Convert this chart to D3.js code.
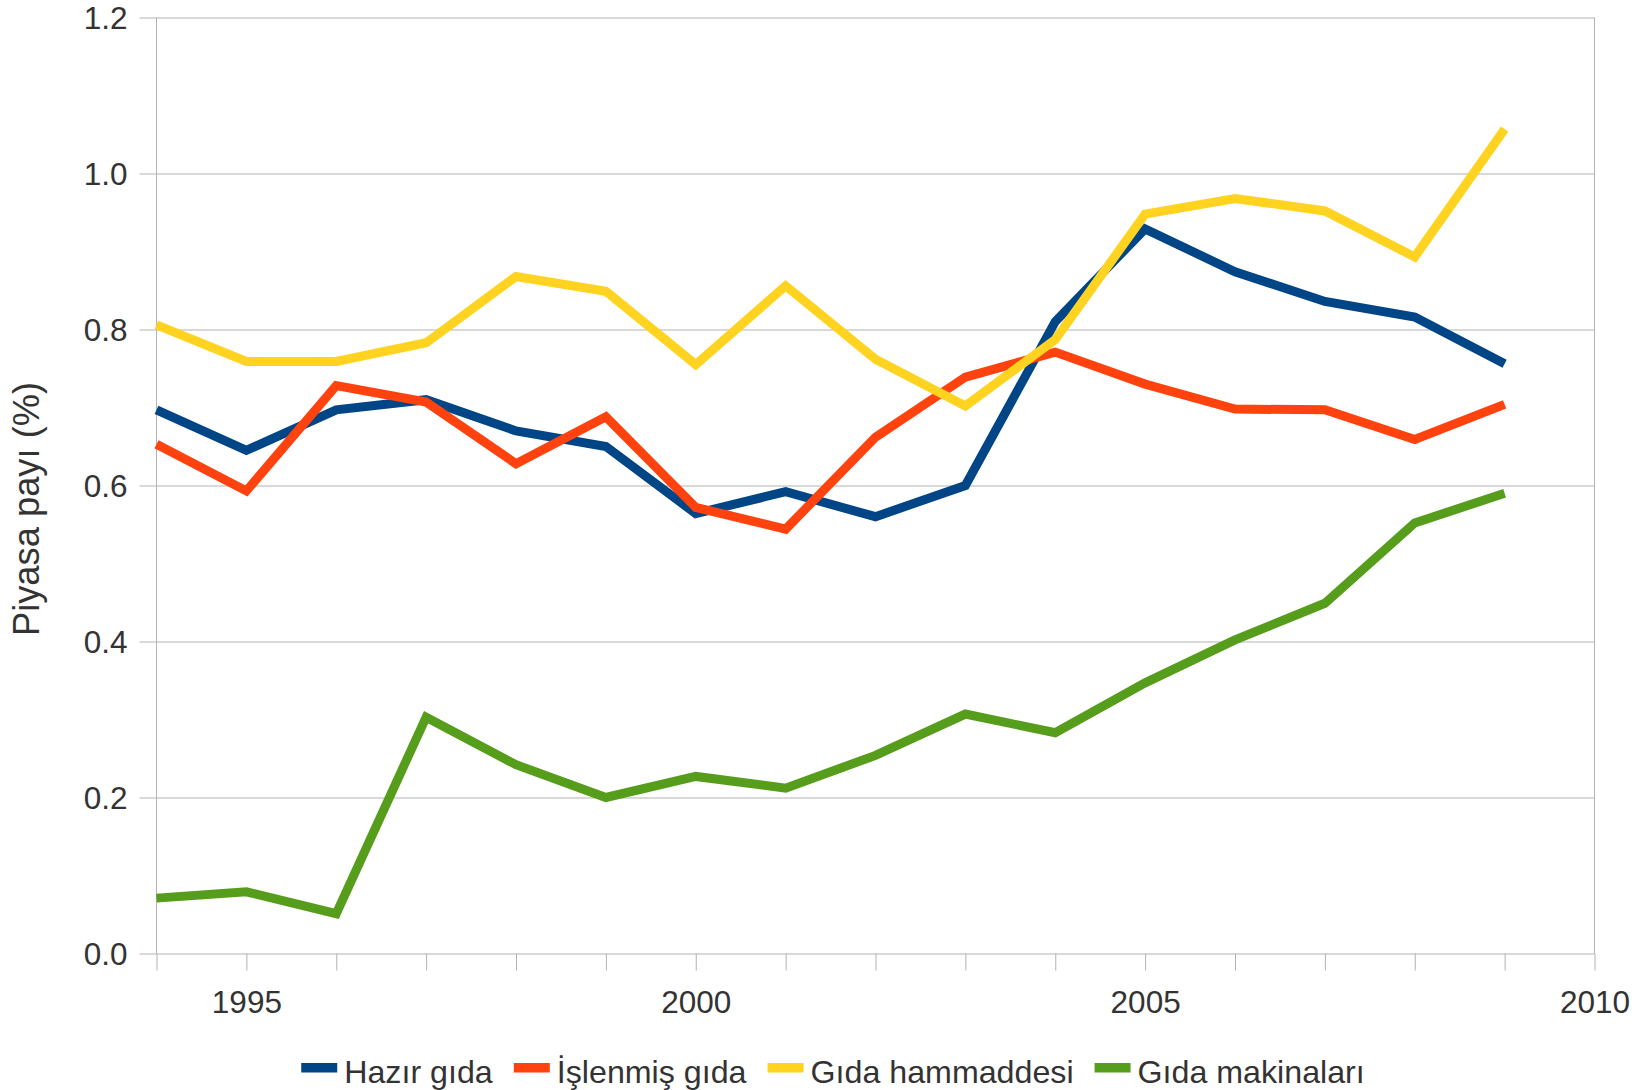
<!DOCTYPE html>
<html>
<head>
<meta charset="utf-8">
<script src="https://cdn.jsdelivr.net/npm/d3@7"></script>
<style>
  body { margin: 0; background: #fff; }
  text { font-family: "Liberation Sans", Arial, sans-serif; fill: #333; }
</style>
</head>
<body>
<div id="chart"></div>
<script>
// ===== data =====
var years = [1994, 1995, 1996, 1997, 1998, 1999, 2000, 2001, 2002, 2003, 2004, 2005, 2006, 2007, 2008, 2009];
var hazirGida = [0.697, 0.645, 0.697, 0.710, 0.670, 0.650, 0.564, 0.592, 0.560, 0.600, 0.810, 0.929, 0.874, 0.836, 0.816, 0.756];
var islenmisGida = [0.653, 0.593, 0.728, 0.707, 0.628, 0.688, 0.572, 0.544, 0.662, 0.739, 0.771, 0.730, 0.698, 0.697, 0.659, 0.704];
var gidaHammaddesi = [0.806, 0.759, 0.759, 0.783, 0.868, 0.849, 0.755, 0.856, 0.762, 0.702, 0.787, 0.948, 0.968, 0.952, 0.893, 1.057];
var gidaMakinalari = [0.071, 0.079, 0.051, 0.303, 0.242, 0.200, 0.227, 0.212, 0.254, 0.307, 0.283, 0.347, 0.402, 0.449, 0.552, 0.590];
var seriesNames = ["Hazır gıda", "İşlenmiş gıda", "Gıda hammaddesi", "Gıda makinaları"];
var seriesColors = ["#004586", "#ff420e", "#ffd320", "#579d1c"];
var yTicks = [0, 0.2, 0.4, 0.6, 0.8, 1.0, 1.2];
var xLabelYears = [1995, 2000, 2005, 2010];
var yTitle = "Piyasa payı (%)";

// ===== layout =====
var svgWidth = 1652, svgHeight = 1090;
var plotLeft = 156.5, plotRight = 1594.5, plotTop = 17.5, plotBottom = 953.5;
var tickLen = 17;
var gridColor = "#b3b3b3";

var svg = d3.select("#chart").append("svg")
    .attr("width", svgWidth)
    .attr("height", svgHeight);

var x = d3.scaleLinear().domain([1994, 2010]).range([plotLeft, plotRight]);
var y = d3.scaleLinear().domain([0, 1.2]).range([plotBottom, plotTop]);

// horizontal grid lines (they stick out left of the axis as ticks)
var grid = svg.append("g")
    .attr("transform", `translate(${plotLeft - tickLen},0)`)
    .call(d3.axisRight(y).tickValues(yTicks).tickSize(plotRight - plotLeft + tickLen).tickFormat(""));
grid.select(".domain").remove();
grid.selectAll("line").attr("stroke", gridColor);

// y labels
var yAxis = svg.append("g")
    .attr("transform", `translate(${plotLeft - tickLen},0)`)
    .call(d3.axisLeft(y).tickValues(yTicks).tickSize(0).tickPadding(12).tickFormat(d3.format(".1f")));
yAxis.select(".domain").remove();
yAxis.selectAll("text").style("font-size", "31.5px").attr("fill", "#333").attr("dy", "0.36em");

// x axis ticks every year, labels every 5 years
var xAxis = svg.append("g")
    .attr("transform", `translate(0,${plotBottom})`)
    .call(d3.axisBottom(x).tickValues(d3.range(1994, 2011)).tickSize(tickLen).tickPadding(20)
        .tickFormat(d => xLabelYears.includes(d) ? d : ""));
xAxis.select(".domain").remove();
xAxis.selectAll("line").attr("stroke", gridColor);
xAxis.selectAll("text").style("font-size", "31.5px").attr("fill", "#333");

// left / right frame lines
svg.append("line").attr("x1", plotLeft).attr("x2", plotLeft).attr("y1", plotTop).attr("y2", plotBottom)
    .attr("stroke", gridColor);
svg.append("line").attr("x1", plotRight).attr("x2", plotRight).attr("y1", plotTop).attr("y2", plotBottom)
    .attr("stroke", gridColor);

// y title
svg.append("text")
    .attr("transform", "translate(39,509) rotate(-90)")
    .attr("text-anchor", "middle")
    .style("font-size", "36.3px")
    .text(yTitle);

// lines
var allSeries = [hazirGida, islenmisGida, gidaHammaddesi, gidaMakinalari];
var line = d3.line()
    .x((d, i) => x(years[i]))
    .y(d => y(d));

svg.append("g").selectAll("path")
    .data(allSeries)
    .enter()
    .append("path")
    .attr("d", d => line(d))
    .attr("fill", "none")
    .attr("stroke", (d, i) => seriesColors[i])
    .attr("stroke-width", 9)
    .attr("stroke-linejoin", "miter");

// legend
var legend = svg.append("g");
var legendFont = 32.2, swatchW = 36, swatchGap = 7, itemGap = 21;
var items = legend.selectAll("g")
    .data(seriesNames)
    .enter()
    .append("g");
items.append("rect")
    .attr("width", swatchW)
    .attr("height", 9.5)
    .attr("y", 1063)
    .attr("fill", (d, i) => seriesColors[i]);
items.append("text")
    .attr("x", swatchW + swatchGap)
    .attr("y", 1083)
    .style("font-size", legendFont + "px")
    .text(d => d);

var widths = [];
items.each(function() { widths.push(this.getBBox().width); });
var total = d3.sum(widths) + itemGap * (widths.length - 1);
var pos = 833 - total / 2;
items.attr("transform", function(d, i) {
    var t = `translate(${pos},0)`;
    pos += widths[i] + itemGap;
    return t;
});
</script>
</body>
</html>
